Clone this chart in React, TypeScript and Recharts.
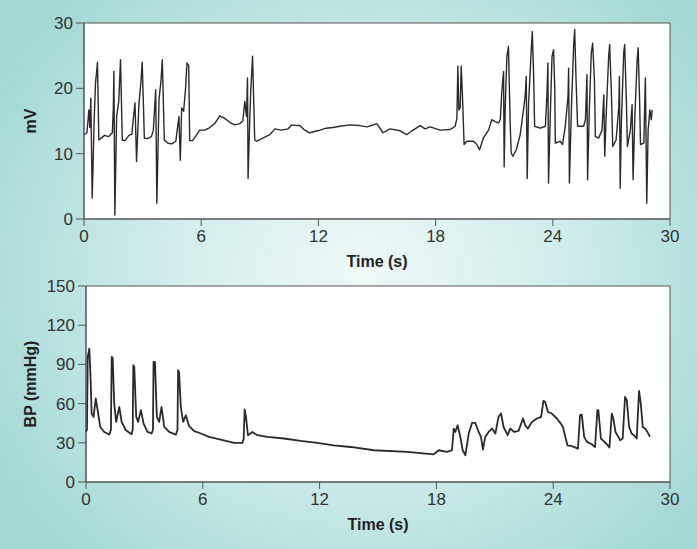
import { LineChart, Line, XAxis, YAxis, CartesianGrid, ReferenceArea } from "recharts";

const timeTicks = [0, 6, 12, 18, 24, 30];
const mvTicks = [0, 10, 20, 30];
const bpTicks = [0, 30, 60, 90, 120, 150];

// ECG trace (mV)
const ecgTime = [
  0, 0.15, 0.25, 0.3, 0.35, 0.42, 0.47, 0.52, 0.59, 0.69, 0.76, 0.85, 1.05, 1.25, 1.45, 1.5, 1.53, 1.58, 1.67, 1.78,
  1.87, 1.96, 2.1, 2.3, 2.45, 2.52, 2.61, 2.69, 2.81, 2.91, 2.98, 3.09, 3.25, 3.45, 3.55, 3.67, 3.73, 3.84, 3.94, 4.01,
  4.11, 4.3, 4.5, 4.7, 4.86, 4.93, 5.0, 5.1, 5.2, 5.27, 5.36, 5.41, 5.56, 5.75, 5.92, 6.18, 6.44, 6.69, 6.95, 7.2,
  7.46, 7.72, 7.97, 8.13, 8.23, 8.32, 8.37, 8.4, 8.49, 8.54, 8.63, 8.74, 8.83, 9.1, 9.51, 9.77, 10.1, 10.45, 10.63, 10.9,
  11.05, 11.3, 11.56, 11.8, 12.08, 12.4, 12.74, 13.1, 13.6, 14.1, 14.5, 14.99, 15.31, 15.67, 16.18, 16.52, 16.79, 17.21, 17.46, 17.72,
  18.23, 18.74, 18.9, 19.0, 19.09, 19.14, 19.19, 19.26, 19.31, 19.37, 19.46, 19.6, 19.94, 20.11, 20.25, 20.45, 20.71, 20.88, 21.05, 21.22,
  21.31, 21.39, 21.48, 21.51, 21.56, 21.65, 21.73, 21.82, 21.87, 21.96, 22.13, 22.33, 22.5, 22.59, 22.64, 22.69, 22.76, 22.88, 22.95, 23.02,
  23.07, 23.36, 23.62, 23.7, 23.75, 23.78, 23.87, 23.96, 24.04, 24.1, 24.13, 24.38, 24.5, 24.64, 24.78, 24.81, 24.85, 24.95, 25.07, 25.12,
  25.19, 25.27, 25.58, 25.67, 25.75, 25.78, 25.87, 25.97, 26.04, 26.13, 26.18, 26.35, 26.52, 26.61, 26.66, 26.73, 26.86, 26.91, 27.0, 27.07,
  27.24, 27.38, 27.41, 27.45, 27.51, 27.63, 27.68, 27.77, 27.82, 27.97, 28.06, 28.11, 28.2, 28.32, 28.37, 28.44, 28.49, 28.66, 28.74, 28.81,
  28.88, 28.97, 29.04, 29.09,
];
const ecgMv = [
  12.9, 13.2, 16.7, 14.0, 18.5, 3.2, 9.0, 15.2, 20.8, 24.0, 12.1, 12.3, 12.8, 12.6, 13.2, 16.7, 22.6, 0.6, 15.7, 18.0,
  24.4, 12.1, 12.0, 12.8, 13.0, 15.2, 17.8, 8.8, 17.5, 20.8, 24.0, 12.4, 12.3, 12.6, 13.6, 19.8, 2.4, 18.3, 21.1, 24.4,
  12.1, 11.6, 11.5, 11.9, 15.7, 9.0, 17.0, 16.5, 20.0, 23.9, 23.5, 12.0, 12.0, 12.8, 13.6, 13.6, 14.0, 14.6, 15.8, 15.4,
  14.8, 14.4, 14.6, 15.0, 18.0, 15.7, 21.6, 6.2, 15.7, 19.8, 24.9, 12.1, 11.9, 12.3, 12.9, 13.8, 13.6, 13.8, 14.4, 14.3,
  14.3, 13.6, 13.2, 13.4, 13.6, 13.9, 14.0, 14.2, 14.4, 14.3, 14.1, 14.6, 13.2, 13.8, 13.5, 12.9, 13.5, 14.3, 13.8, 14.1,
  13.6, 13.7, 14.0, 14.2, 15.4, 23.4, 16.7, 17.0, 23.4, 19.3, 11.4, 11.9, 11.9, 11.4, 10.6, 12.4, 13.6, 15.2, 14.9, 14.7,
  15.2, 19.5, 22.6, 8.0, 16.7, 24.9, 26.4, 14.4, 10.1, 9.6, 10.6, 12.9, 16.7, 19.0, 21.8, 6.2, 17.7, 24.9, 28.7, 21.8,
  14.2, 13.9, 14.2, 19.0, 23.9, 5.5, 15.7, 24.9, 25.9, 20.0, 11.6, 11.9, 11.4, 14.2, 18.8, 23.1, 5.5, 16.7, 26.7, 29.0,
  21.3, 14.2, 14.2, 15.2, 22.1, 6.0, 16.7, 25.4, 26.9, 21.3, 12.6, 12.4, 13.6, 19.0, 9.6, 15.7, 24.9, 26.7, 19.3, 11.1,
  12.1, 17.2, 21.8, 4.7, 14.7, 25.4, 26.7, 17.7, 11.1, 13.6, 17.5, 6.0, 15.6, 24.4, 26.2, 18.6, 11.4, 11.6, 21.6, 2.4,
  13.6, 16.7, 15.2, 16.7,
];

// blood pressure trace (mmHg)
const bpTime = [
  0, 0.05, 0.09, 0.17, 0.22, 0.29, 0.39, 0.5, 0.6, 0.73, 0.94, 1.2, 1.28, 1.32, 1.37, 1.45, 1.55, 1.71, 1.83, 2.05,
  2.34, 2.4, 2.43, 2.48, 2.58, 2.68, 2.82, 2.96, 3.16, 3.37, 3.44, 3.47, 3.54, 3.64, 3.76, 3.88, 4.02, 4.27, 4.62, 4.7,
  4.73, 4.78, 4.87, 4.99, 5.13, 5.3, 5.56, 5.9, 6.32, 6.92, 7.61, 8.03, 8.1, 8.15, 8.22, 8.32, 8.55, 8.8, 9.32, 10.17,
  11.03, 11.88, 12.73, 13.59, 14.79, 16.5, 17.86, 18.12, 18.55, 18.8, 18.89, 18.97, 19.09, 19.23, 19.35, 19.49, 19.66, 19.83, 20.0, 20.17,
  20.29, 20.39, 20.51, 20.68, 20.86, 21.03, 21.19, 21.32, 21.45, 21.66, 21.79, 22.0, 22.22, 22.45, 22.56, 22.7, 22.91, 23.16, 23.38, 23.5,
  23.59, 23.73, 23.93, 24.19, 24.39, 24.5, 24.58, 24.73, 24.96, 25.27, 25.38, 25.47, 25.59, 25.73, 25.98, 26.15, 26.27, 26.32, 26.45, 26.58,
  26.75, 26.89, 27.01, 27.09, 27.2, 27.3, 27.44, 27.57, 27.69, 27.78, 27.9, 28.03, 28.15, 28.29, 28.41, 28.5, 28.6, 28.72, 28.84, 28.97,
];
const bpValue = [
  38.3, 40, 95.8, 102, 85.6, 52.4, 49.8, 63.9, 54.9, 42.1, 38.3, 36.3, 40, 95.8, 95.0, 60, 46, 57.5, 46, 39.6,
  36.6, 40, 89.4, 88.1, 49.8, 46, 54.9, 44.7, 38.3, 37.1, 40, 92, 92, 49.8, 46, 57.5, 42.1, 38.3, 36.3, 40,
  85.6, 84.3, 57.5, 46, 51.1, 42.7, 38.9, 37.1, 34.5, 32.5, 29.9, 29.9, 33, 55.5, 49.8, 35.8, 38.3, 35.8, 34.5, 33.3,
  31.4, 29.9, 28.1, 26.8, 24.3, 23.0, 21.2, 24.3, 23.0, 24.3, 40.9, 38.3, 43.4, 34.5, 24.3, 20.5, 37.1, 45.2, 45.2, 38.3,
  34.5, 24.8, 34.5, 38.3, 40.9, 37.1, 49.8, 52.4, 42.1, 35.8, 40.9, 38.3, 39.1, 48.6, 43.4, 40.9, 46, 48.6, 49.8, 62.1,
  61.3, 53.6, 52.4, 48.6, 44.7, 42.1, 37.1, 28.1, 27.4, 25.6, 51.1, 51.5, 34.5, 30.7, 28.9, 26.8, 54.9, 54.9, 33.3, 31.4,
  28.9, 26.4, 52.4, 48.6, 38.3, 35.8, 32.0, 33.3, 65.1, 62.6, 42.1, 37.1, 35.8, 33.3, 69.7, 60, 42.1, 40.9, 38.3, 34.5,
];

const ecgData = ecgTime.map((t, i) => ({ t, v: ecgMv[i] }));
const bpData = bpTime.map((t, i) => ({ t, v: bpValue[i] }));

const font = "'Liberation Sans', Arial, Helvetica, sans-serif";
const tickStyle = { fill: "#333", fontSize: 17, fontFamily: font };
const axisColor = "#555";

const sideTitle = (text: string) => (props: any) => {
  const vb = props.viewBox || {};
  const cx = 30;
  const cy = vb.y + vb.height / 2;
  return (
    <text
      x={cx}
      y={cy}
      transform={`rotate(-90 ${cx} ${cy})`}
      textAnchor="middle"
      dominantBaseline="central"
      fontFamily={font}
      fontWeight="bold"
      fontSize={16}
      fill="#222"
    >
      {text}
    </text>
  );
};

const bottomTitle = (props: any) => {
  const vb = props.viewBox || {};
  const cx = vb.x + vb.width / 2;
  return (
    <text x={cx} y={vb.y + 42} textAnchor="middle" dominantBaseline="central" fontFamily={font} fontWeight="bold" fontSize={16} fill="#222">
      Time (s)
    </text>
  );
};

// plot area is 196px high, 15px top margin so the top tick label isn't pushed down
function Panel({ data, yTicks, yMax, title, left, lineWidth }: any) {
  return (
    <LineChart width={697} height={265} data={data} margin={{ top: 15, right: 27, left: 0, bottom: 0 }}>
      <CartesianGrid horizontal={false} vertical={false} fill="#fff" />
      <XAxis
        dataKey="t"
        type="number"
        domain={[0, 30]}
        ticks={timeTicks}
        stroke={axisColor}
        tick={tickStyle}
        tickSize={7}
        tickMargin={4}
        height={54}
        label={{ content: bottomTitle }}
      />
      <YAxis
        type="number"
        domain={[0, yMax]}
        ticks={yTicks}
        stroke={axisColor}
        tick={tickStyle}
        tickSize={8}
        tickMargin={3}
        width={left}
        label={{ content: sideTitle(title) }}
      />
      <ReferenceArea x1={0} x2={30} y1={0} y2={yMax} fill="none" fillOpacity={0} stroke={axisColor} strokeWidth={1} />
      <Line
        type="linear"
        dataKey="v"
        stroke="#2a2a2a"
        strokeWidth={lineWidth}
        strokeLinejoin="round"
        dot={false}
        isAnimationActive={false}
      />
    </LineChart>
  );
}

export default function App() {
  return (
    <div
      style={{
        position: "absolute",
        left: 0,
        top: 0,
        width: 697,
        height: 549,
        overflow: "hidden",
        background: "radial-gradient(ellipse 60% 70% at 52% 50%, #eef8f7 0%, #d3eeec 45%, #a3d8d5 100%)",
      }}
    >
      <div style={{ position: "absolute", left: 0, top: 8 }}>
        <Panel data={ecgData} yTicks={mvTicks} yMax={30} title="mV" left={84} lineWidth={1.4} />
      </div>
      <div style={{ position: "absolute", left: 0, top: 271 }}>
        <Panel data={bpData} yTicks={bpTicks} yMax={150} title="BP (mmHg)" left={86} lineWidth={1.8} />
      </div>
    </div>
  );
}
